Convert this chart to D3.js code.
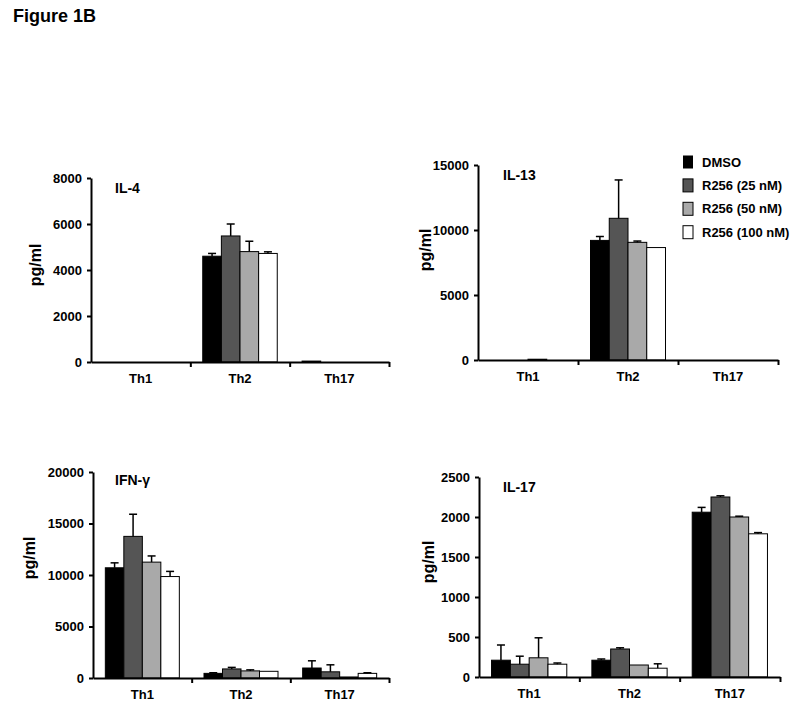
<!DOCTYPE html>
<html>
<head>
<meta charset="utf-8">
<script src="https://cdn.jsdelivr.net/npm/d3@7"></script>
<style>
  html, body { margin: 0; padding: 0; background: #fff; }
  svg text { font-family: "Liberation Sans", Arial, sans-serif; font-weight: bold; fill: #000; }
</style>
</head>
<body>
<svg id="chart" width="800" height="716"></svg>
<script>
// ---------- DATA ----------
const categories = ["Th1", "Th2", "Th17"];
const seriesNames = ["DMSO", "R256 (25 nM)", "R256 (50 nM)", "R256 (100 nM)"];
const seriesColors = ["#000000", "#555555", "#a9a9a9", "#ffffff"];

// values[series][category]
const il4Values = [[0, 4600, 40], [0, 5480, 0], [0, 4800, 0], [0, 4720, 0]];
const il4Errors = [[0, 120, 0], [0, 520, 0], [0, 450, 0], [0, 70, 0]];
const il4Ticks = [0, 2000, 4000, 6000, 8000];

const il13Values = [[0, 9200, 0], [0, 10900, 0], [60, 9050, 0], [0, 8650, 0]];
const il13Errors = [[0, 300, 0], [0, 2950, 0], [0, 100, 0], [0, 0, 0]];
const il13Ticks = [0, 5000, 10000, 15000];

const ifngValues = [[10700, 450, 970], [13750, 880, 600], [11250, 690, 100], [9850, 650, 450]];
const ifngErrors = [[480, 60, 700], [2150, 150, 680], [600, 100, 0], [500, 0, 60]];
const ifngTicks = [0, 5000, 10000, 15000, 20000];

const il17Values = [[210, 210, 2060], [160, 350, 2250], [240, 150, 2000], [160, 110, 1790]];
const il17Errors = [[190, 15, 60], [100, 15, 15], [250, 0, 10], [15, 55, 15]];
const il17Ticks = [0, 500, 1000, 1500, 2000, 2500];

// ---------- LAYOUT ----------
const panels = [
  { title: "IL-4",  values: il4Values,  errors: il4Errors,  ticks: il4Ticks,
    x0: 91,  x1: 389, yTop: 178, yBot: 362, titleX: 115, titleY: 193, ylabX: 35,  ylabY: 265 },
  { title: "IL-13", values: il13Values, errors: il13Errors, ticks: il13Ticks,
    x0: 478, x1: 778, yTop: 165, yBot: 360, titleX: 503, titleY: 180, ylabX: 425, ylabY: 250 },
  { title: "IFN-γ", values: ifngValues, errors: ifngErrors, ticks: ifngTicks,
    x0: 93,  x1: 389, yTop: 472, yBot: 678, titleX: 115, titleY: 485, ylabX: 29,  ylabY: 558 },
  { title: "IL-17", values: il17Values, errors: il17Errors, ticks: il17Ticks,
    x0: 479, x1: 780, yTop: 477, yBot: 677, titleX: 503, titleY: 492, ylabX: 428, ylabY: 562 }
];

const svg = d3.select("#chart");

svg.append("text").attr("x", 13).attr("y", 22).attr("font-size", 18).text("Figure 1B");

panels.forEach(p => {
  const g = svg.append("g");
  const yMax = p.ticks[p.ticks.length - 1];
  const y = d3.scaleLinear().domain([0, yMax]).range([p.yBot, p.yTop]);
  const x = d3.scaleBand().domain(categories).range([p.x0, p.x1]);
  const bw = x.bandwidth();
  const xs = d3.scaleBand().domain(seriesNames).range([bw * 0.125, bw * 0.875]);
  const barW = xs.bandwidth();

  // bars
  seriesNames.forEach((s, si) => {
    categories.forEach((c, ci) => {
      const v = p.values[si][ci];
      if (v <= 0) return;
      const bx = x(c) + xs(s);
      g.append("rect")
        .attr("x", bx).attr("y", y(v))
        .attr("width", barW).attr("height", y(0) - y(v))
        .attr("fill", seriesColors[si])
        .attr("stroke", "#000").attr("stroke-width", 1);
      const e = p.errors[si][ci];
      if (e > 0) {
        const cx = bx + barW / 2;
        g.append("line").attr("x1", cx).attr("x2", cx)
          .attr("y1", y(v)).attr("y2", y(v + e))
          .attr("stroke", "#000").attr("stroke-width", 1.5);
        g.append("line").attr("x1", cx - 4).attr("x2", cx + 4)
          .attr("y1", y(v + e)).attr("y2", y(v + e))
          .attr("stroke", "#000").attr("stroke-width", 1.5);
      }
    });
  });

  // y axis
  const yAxis = g.append("g").attr("transform", `translate(${p.x0},0)`)
    .call(d3.axisLeft(y).tickValues(p.ticks).tickSize(4).tickSizeOuter(0).tickPadding(5)
      .tickFormat(d3.format("d")));
  yAxis.select(".domain").attr("stroke-width", 2);
  yAxis.selectAll(".tick line").attr("stroke-width", 2);
  yAxis.selectAll("text").attr("font-size", 13).attr("font-family", null);

  // x axis: boundary ticks
  const xi = d3.scaleLinear().domain([0, categories.length]).range([p.x0, p.x1]);
  const xAxis = g.append("g").attr("transform", `translate(0,${p.yBot})`)
    .call(d3.axisBottom(xi).tickValues(d3.range(1, categories.length + 1)).tickSize(5)
      .tickSizeOuter(0).tickFormat(""));
  xAxis.select(".domain").attr("stroke-width", 2);
  xAxis.selectAll(".tick line").attr("stroke-width", 2);

  // x labels
  const xLab = g.append("g").attr("transform", `translate(0,${p.yBot})`)
    .call(d3.axisBottom(x).tickSize(0).tickPadding(12));
  xLab.select(".domain").remove();
  xLab.selectAll("text").attr("font-size", 13).attr("font-family", null);

  // titles
  g.append("text").attr("x", p.titleX).attr("y", p.titleY).attr("font-size", 14).text(p.title);
  g.append("text")
    .attr("transform", `translate(${p.ylabX},${p.ylabY}) rotate(-90)`)
    .attr("text-anchor", "middle").attr("dy", "0.35em")
    .attr("font-size", 16).text("pg/ml");
});

// legend
const legend = svg.append("g");
seriesNames.forEach((s, i) => {
  const ly = 162 + i * 23.4;
  legend.append("rect").attr("x", 683).attr("y", ly - 6.5).attr("width", 10).attr("height", 13)
    .attr("fill", seriesColors[i]).attr("stroke", "#000").attr("stroke-width", i === 0 ? 0 : 1);
  legend.append("text").attr("x", 702).attr("y", ly).attr("dy", "0.35em")
    .attr("font-size", 13).text(s);
});
</script>
</body>
</html>
